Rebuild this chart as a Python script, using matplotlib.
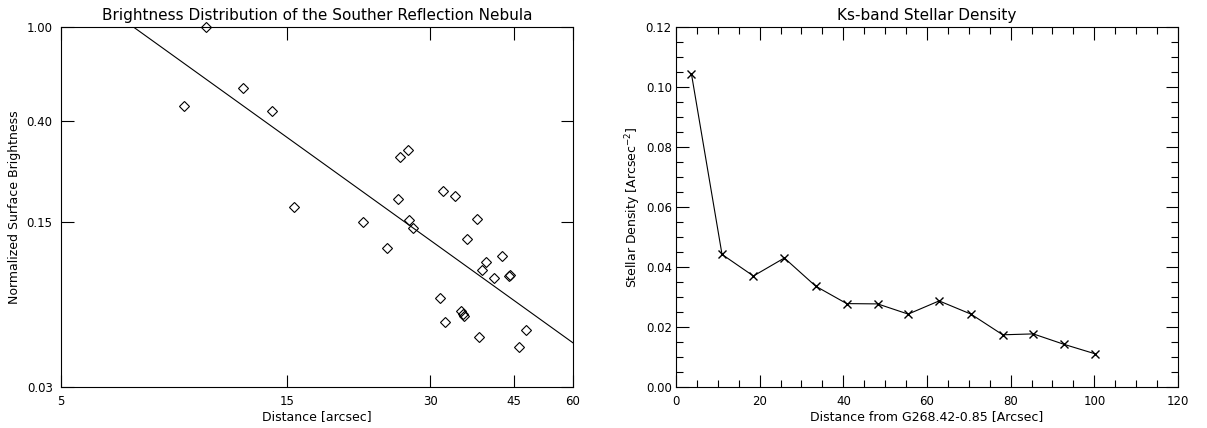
import matplotlib
matplotlib.use("Agg")
import matplotlib.pyplot as plt
from matplotlib.ticker import FixedLocator, NullLocator, MultipleLocator, FormatStrFormatter
import numpy as np

# Left panel: normalized surface brightness vs distance (log-log)
dist_arcsec = [9.1, 10.1, 12.1, 13.9, 15.5, 21.7, 24.3, 25.9, 27.0, 25.6,
               27.1, 27.6, 32.0, 33.9, 37.7, 35.8, 42.6, 39.3, 38.5, 40.8,
               44.0, 44.2, 31.5, 34.8, 35.1, 35.4, 32.2, 38.1, 47.7, 46.1]
brightness = [0.463, 1.0, 0.554, 0.441, 0.173, 0.150, 0.116, 0.282, 0.301, 0.187,
              0.153, 0.141, 0.202, 0.193, 0.154, 0.127, 0.107, 0.101, 0.094, 0.0867,
              0.0884, 0.089, 0.0716, 0.0626, 0.0612, 0.0597, 0.0565, 0.0489, 0.0524, 0.0444]

# power-law fit  y = fit_amp * x**fit_slope
fit_slope = -1.442
fit_amp = 10 ** 1.228

# Right panel: Ks-band stellar density profile
radius = [3.7, 11.0, 18.5, 25.9, 33.4, 40.8, 48.2, 55.5, 62.9, 70.5, 78.1, 85.4, 92.8, 100.1]
density = [0.1043, 0.0442, 0.0370, 0.0430, 0.0336, 0.0278, 0.0277, 0.0243, 0.0287,
           0.0243, 0.0174, 0.0177, 0.0142, 0.0111]

plt.rcParams['font.family'] = 'DejaVu Sans'
plt.rcParams['font.size'] = 9

fig = plt.figure(figsize=(12.07, 4.28), dpi=100)
W, H = 1207.0, 428.0

def box(x0, x1, y0, y1):
    return [x0 / W, 1 - y1 / H, (x1 - x0) / W, (y1 - y0) / H]

ax1 = fig.add_axes(box(61, 573, 27, 387))
ax2 = fig.add_axes(box(676, 1178, 27, 387))

for ax in (ax1, ax2):
    ax.tick_params(which='both', direction='in', top=True, right=True, width=0.8,
                   labelsize=8.5)
    ax.tick_params(which='major', length=9, pad=6)
    ax.tick_params(which='minor', length=5)
    for s in ax.spines.values():
        s.set_linewidth(0.8)
ax2.tick_params(axis='y', which='major', pad=3)

# ---- left panel
ax1.plot(dist_arcsec, brightness, linestyle='none', marker='D', markersize=5.5,
         markerfacecolor='none', markeredgecolor='black', markeredgewidth=0.8, clip_on=False)
xfit = np.array([5.0, 60.0])
ax1.plot(xfit, fit_amp * xfit ** fit_slope, color='black', linewidth=0.8)
ax1.set_xscale('log')
ax1.set_yscale('log')
ax1.set_xlim(5, 60)
ax1.set_ylim(0.03, 1.0)
ax1.xaxis.set_major_locator(FixedLocator([5, 15, 30, 45, 60]))
ax1.xaxis.set_major_formatter(FormatStrFormatter('%d'))
ax1.xaxis.set_minor_locator(NullLocator())
ax1.yaxis.set_major_locator(FixedLocator([0.03, 0.15, 0.40, 1.00]))
ax1.yaxis.set_major_formatter(FormatStrFormatter('%.2f'))
ax1.yaxis.set_minor_locator(NullLocator())
ax1.set_title("Brightness Distribution of the Souther Reflection Nebula", fontsize=11, pad=5)
ax1.set_xlabel("Distance [arcsec]", labelpad=1)
ax1.set_ylabel("Normalized Surface Brightness", labelpad=4)

# ---- right panel
ax2.plot(radius, density, color='black', linewidth=0.8, marker='x', markersize=6,
         markeredgewidth=1.0)
ax2.set_xlim(0, 120)
ax2.set_ylim(0, 0.12)
ax2.xaxis.set_major_locator(MultipleLocator(20))
ax2.xaxis.set_minor_locator(MultipleLocator(5))
ax2.yaxis.set_major_locator(MultipleLocator(0.02))
ax2.yaxis.set_minor_locator(MultipleLocator(0.005))
ax2.yaxis.set_major_formatter(FormatStrFormatter('%.2f'))
ax2.set_title("Ks-band Stellar Density", fontsize=11, pad=5)
ax2.set_xlabel("Distance from G268.42-0.85 [Arcsec]", labelpad=1)
ax2.set_ylabel("Stellar Density [Arcsec$^{-2}$]", labelpad=2)

fig.savefig("out.png", dpi=100)
